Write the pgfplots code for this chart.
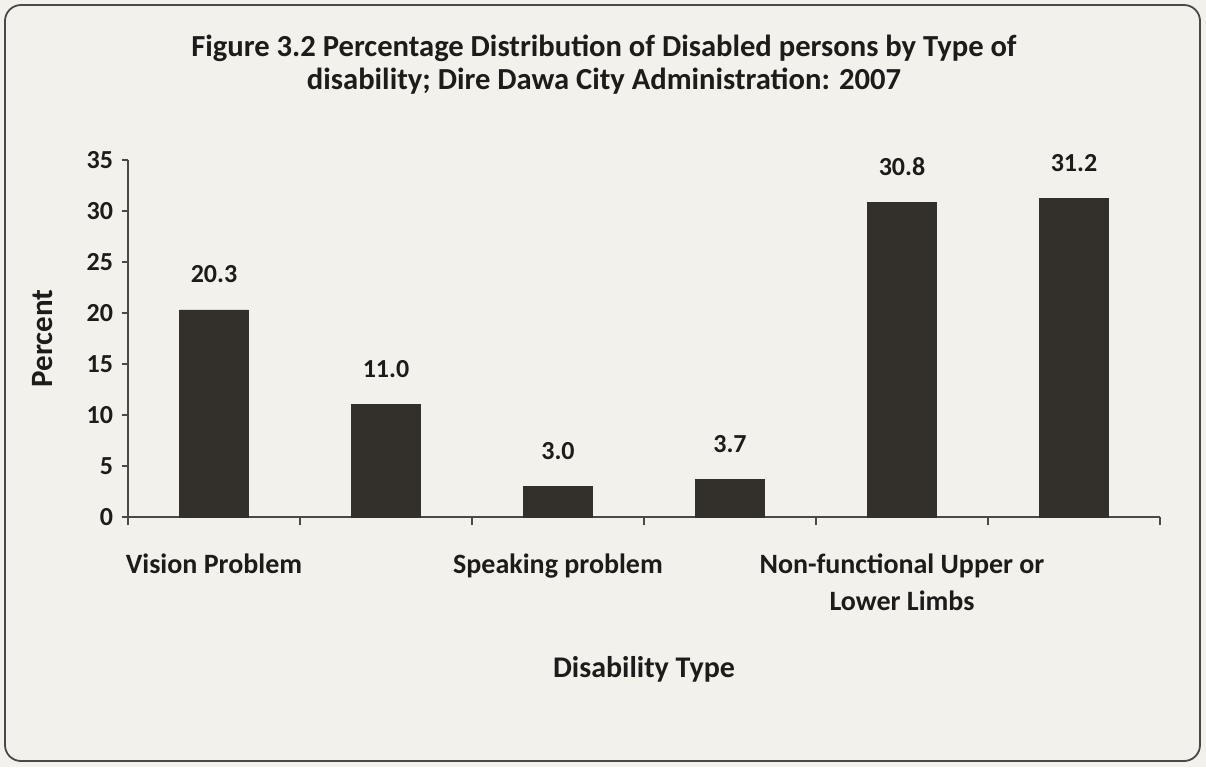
\documentclass[border=0pt]{standalone}
\usepackage{pgfplots}
\pgfplotsset{compat=1.18}
\usetikzlibrary{backgrounds}
\usepackage{fontspec}
\setmainfont{Carlito}
\definecolor{paper}{HTML}{F3F1EC}
\definecolor{barcol}{HTML}{332F2B}
\definecolor{ink}{HTML}{1E1C1A}
\begin{document}
\begin{tikzpicture}[show background rectangle, inner frame sep=0pt, background rectangle/.style={fill=paper, draw=none}]
\begin{axis}[
  scale only axis, width=516pt, height=178.5pt,
  clip=false,
  xmin=-0.5, xmax=5.5, ymin=0, ymax=35,
  axis x line*=bottom, axis y line*=left,
  axis line style={ink!80, line width=0.7pt},
  every outer x axis line/.append style={-}, every outer y axis line/.append style={-},
  ytick={0,5,...,35},
  xtick={0,2,4},
  xticklabels={Vision Problem,Speaking problem,{Non-functional Upper or\\Lower Limbs}},
  minor xtick={-0.5,0.5,...,5.5},
  major x tick style={draw=none},
  minor tick length=4pt,
  major tick length=3pt,
  tick align=outside,
  tick style={ink!80, line width=0.6pt},
  /pgf/number format/assume math mode=true,
  yticklabel style={font=\fontsize{13}{15}\selectfont\bfseries, text=ink, xshift=-1pt},
  xticklabel style={font=\fontsize{14}{18.5}\selectfont\bfseries, text=ink, align=center, yshift=-12pt, anchor=north},
  ylabel={Percent}, ylabel style={font=\fontsize{15.5}{17}\selectfont\bfseries, text=ink, yshift=10pt},
  xlabel={Disability Type}, xlabel style={font=\fontsize{15}{17}\selectfont\bfseries, text=ink, yshift=-16pt},
  ybar, bar width=0.4,
  nodes near coords,
  nodes near coords style={font=\fontsize{13}{15}\selectfont\bfseries, text=ink, /pgf/number format/fixed, /pgf/number format/fixed zerofill, /pgf/number format/precision=1, yshift=10pt},
]
\addplot[fill=barcol, draw=barcol] coordinates {(0,20.3) (1,11.0) (2,3.0) (3,3.7) (4,30.8) (5,31.2)};
\path ([shift={(-64pt,-125pt)}]rel axis cs:0,0) rectangle ([shift={(23pt,80pt)}]rel axis cs:1,1);
\draw[ink!80,line width=0.9pt,rounded corners=8pt] ([shift={(-61.5pt,-122pt)}]rel axis cs:0,0) rectangle ([shift={(20pt,77.5pt)}]rel axis cs:1,1);
\node[align=center,font=\fontsize{15.3}{16.5}\selectfont\bfseries,text=ink] at ([shift={(238pt,47.5pt)}]rel axis cs:0,1)
  {Figure 3.2 Percentage Distribution of Disabled persons by Type of\\disability; Dire Dawa City Administration: 2007};
\end{axis}
\end{tikzpicture}
\end{document}
